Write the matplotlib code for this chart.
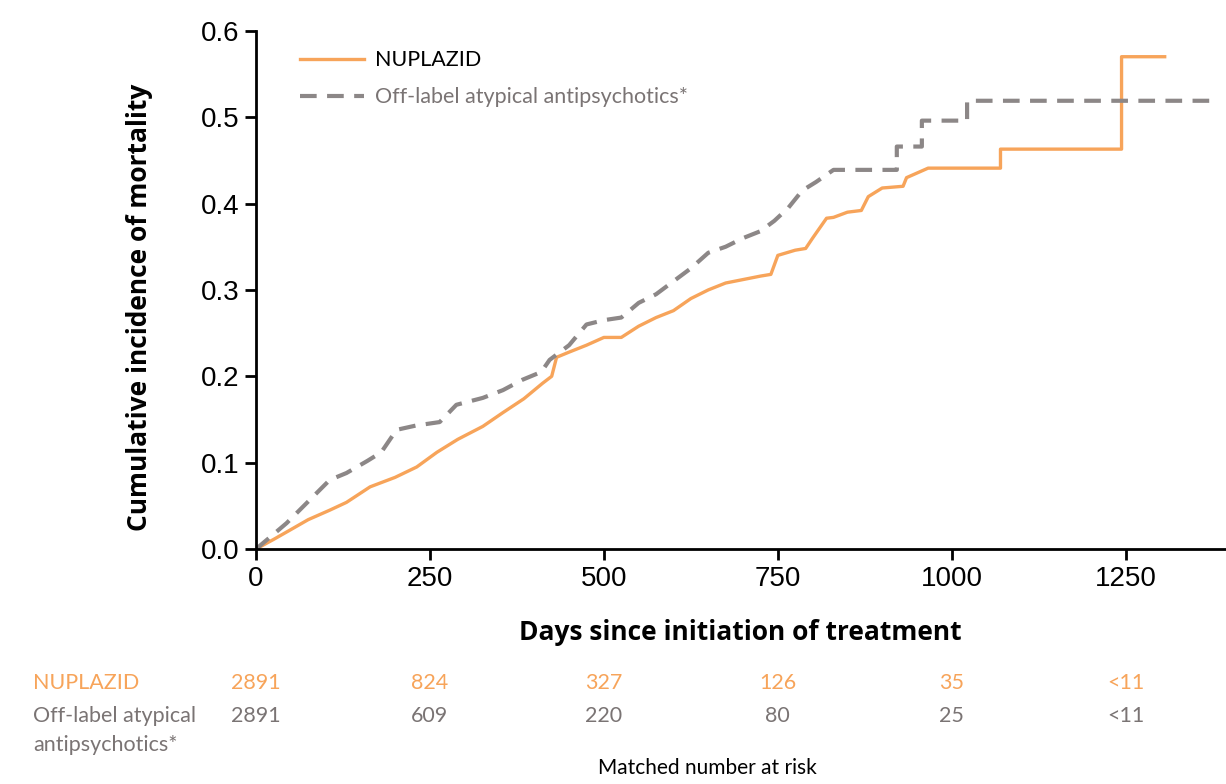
import matplotlib
matplotlib.use("Agg")
import matplotlib.pyplot as plt
from matplotlib.transforms import blended_transform_factory

# cumulative incidence (days, value); repeated days mark visible jumps
nup_days = [0, 25, 49, 75, 106, 130, 164, 200, 231, 260, 290, 326, 355, 385, 412, 425, 432,
            450, 475, 500, 525, 550, 575, 600, 625, 650, 675, 700, 725, 740, 750, 775, 790,
            800, 820, 830, 850, 870, 880, 900, 930, 935, 966, 1070, 1070, 1244, 1244, 1306]
nup_vals = [0.0, 0.011, 0.022, 0.034, 0.045, 0.054, 0.072, 0.083, 0.095, 0.112, 0.127, 0.142,
            0.158, 0.174, 0.192, 0.200, 0.222, 0.228, 0.236, 0.245, 0.245, 0.258, 0.268, 0.276,
            0.290, 0.300, 0.308, 0.312, 0.316, 0.318, 0.340, 0.346, 0.348, 0.360, 0.383, 0.384,
            0.390, 0.392, 0.408, 0.418, 0.420, 0.430, 0.441, 0.441, 0.463, 0.463, 0.570, 0.570]

off_days = [0, 25, 44, 75, 106, 130, 160, 180, 202, 230, 264, 288, 326, 355, 383, 410, 422,
            450, 475, 500, 525, 550, 575, 600, 625, 650, 675, 700, 725, 745, 765, 785, 805,
            830, 921, 921, 957, 957, 1022, 1022, 1371]
off_vals = [0.0, 0.017, 0.030, 0.055, 0.080, 0.088, 0.102, 0.112, 0.138, 0.143, 0.147, 0.167,
            0.175, 0.184, 0.196, 0.205, 0.219, 0.236, 0.260, 0.265, 0.268, 0.285, 0.295, 0.310,
            0.325, 0.343, 0.350, 0.360, 0.368, 0.380, 0.395, 0.415, 0.425, 0.439, 0.439, 0.466,
            0.466, 0.496, 0.496, 0.519, 0.519]

risk_days = [0, 250, 500, 750, 1000, 1250]
nup_risk = ["2891", "824", "327", "126", "35", "<11"]
off_risk = ["2891", "609", "220", "80", "25", "<11"]

orange = "#F7A45A"
grey = "#8C8787"
text_grey = "#7a7474"

fig = plt.figure(figsize=(12.26, 7.84), dpi=100)
ax = fig.add_axes([0.2088, 0.2997, 0.790, 0.661])

ax.plot(nup_days, nup_vals, color=orange, lw=2.4, label="NUPLAZID")
ax.plot(off_days, off_vals, color=grey, lw=3, ls=(0, (4, 2.5)),
        label="Off-label atypical antipsychotics*")

ax.set_xlim(0, 1392)
ax.set_ylim(0, 0.6)
ax.set_xticks(risk_days)
ax.set_yticks([0.0, 0.1, 0.2, 0.3, 0.4, 0.5, 0.6])
ax.set_yticklabels([f"{v:.1f}" for v in ax.get_yticks()])
for s in ("top", "right"):
    ax.spines[s].set_visible(False)
for s in ("left", "bottom"):
    ax.spines[s].set_linewidth(2)
ax.tick_params(direction="out", length=8, width=2, labelsize=20, pad=4)
for lab in ax.get_xticklabels() + ax.get_yticklabels():
    lab.set_family("Liberation Sans")

ax.set_xlabel("Days since initiation of treatment", fontsize=19, fontweight="bold",
              family="Open Sans", labelpad=20)
ax.set_ylabel("Cumulative incidence of mortality", fontsize=19, fontweight="bold",
              family="Open Sans")
ax.yaxis.set_label_coords(-0.106, 0.467)

leg = ax.legend(loc="upper left", bbox_to_anchor=(0.025, 1.0), frameon=False,
                prop={"family": "Lato", "size": 15.5}, handlelength=3.0,
                handletextpad=0.5, labelspacing=0.8)
leg.get_texts()[1].set_color(text_grey)

# number at risk table
tr = blended_transform_factory(ax.transData, fig.transFigure)
for d, a, b in zip(risk_days, nup_risk, off_risk):
    ax.text(d, 1 - 683 / 784, a, transform=tr, ha="center", va="center",
            color=orange, fontsize=15.5, family="Lato", clip_on=False)
    ax.text(d, 1 - 716 / 784, b, transform=tr, ha="center", va="center",
            color=text_grey, fontsize=15.5, family="Lato", clip_on=False)
fig.text(33 / 1226, 1 - 683 / 784, "NUPLAZID", color=orange, fontsize=15.5,
         family="Lato", va="center")
fig.text(33 / 1226, 1 - 716 / 784, "Off-label atypical", color=text_grey, fontsize=15.5,
         family="Lato", va="center")
fig.text(33 / 1226, 1 - 745 / 784, "antipsychotics*", color=text_grey, fontsize=15.5,
         family="Lato", va="center")
fig.text(707 / 1226, 1 - 768 / 784, "Matched number at risk", color="black", fontsize=15,
         family="Lato", ha="center", va="center")

fig.savefig("out.png", dpi=100)
